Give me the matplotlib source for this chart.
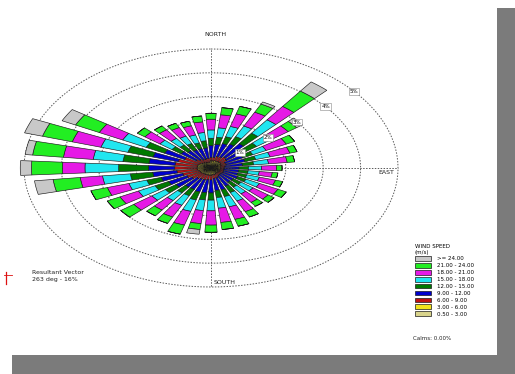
import numpy as np
import matplotlib.pyplot as plt
from matplotlib.patches import Patch, Rectangle
from matplotlib.lines import Line2D

W, H = 515, 374

# wind directions (deg, blowing from) and frequency (%) per speed class, lowest class first
directions = list(range(0, 360, 10))
speed_labels = ['0.50 - 3.00', '3.00 - 6.00', '6.00 - 9.00', '9.00 - 12.00', '12.00 - 15.00',
                '15.00 - 18.00', '18.00 - 21.00', '21.00 - 24.00', '>= 24.00']
colors = ['#d9d48c', '#f2e21c', '#c01010', '#0000cd', '#007a00',
          '#20e6f0', '#e619e6', '#22ee22', '#c8c8c8']

c1 = [.12, .12, .12, .12, .12, .12, .10, .10, .10, .10, .10, .10, .10, .10, .10, .10, .10, .10,
      .10, .10, .10, .10, .10, .12, .12, .12, .12, .12, .12, .12, .12, .10, .10, .10, .10, .10]
c2 = [.18, .18, .20, .20, .20, .20, .18, .18, .15, .15, .15, .15, .15, .15, .15, .15, .18, .18,
      .20, .20, .20, .20, .20, .20, .20, .22, .25, .25, .25, .25, .22, .20, .18, .15, .15, .15]
c3 = [.15, .16, .18, .20, .25, .20, .15, .15, .13, .10, .10, .10, .12, .10, .10, .14, .16, .16,
      .20, .20, .22, .22, .25, .32, .40, .45, .55, .60, .60, .55, .45, .20, .16, .15, .15, .15]
c4 = [.50, .54, .57, .60, .70, .60, .52, .52, .47, .40, .40, .40, .43, .40, .40, .46, .51, .51,
      .55, .55, .53, .48, .45, .53, .55, .60, .65, .70, .70, .70, .60, .50, .46, .45, .45, .45]
c5 = [.30, .30, .30, .35, .55, .40, .30, .30, .30, .25, .25, .25, .25, .25, .25, .30, .30, .30,
      .30, .30, .35, .30, .30, .35, .40, .40, .60, .80, .70, .70, .55, .30, .30, .30, .25, .30]
c6 = [.35, .40, .45, .50, .70, .50, .40, .40, .40, .35, .30, .35, .40, .40, .35, .40, .45, .45,
      .45, .45, .50, .45, .40, .45, .50, .50, .75, .90, .80, .75, .70, .40, .35, .35, .35, .35]
c7 = [.45, .55, .55, .65, .70, .55, .60, .55, .50, .40, .35, .45, .55, .50, .45, .50, .55, .60,
      .60, .55, .60, .55, .50, .60, .55, .60, .60, .60, .80, .80, .70, .50, .45, .40, .40, .45]
c8 = [.25, .30, .33, .38, .80, .28, .25, .20, .20, .15, .15, .20, .25, .20, .20, .25, .30, .30,
      .30, .25, .40, .30, .30, .43, .38, .46, .73, .83, .83, .83, .71, .25, .20, .20, .20, .25]
c9 = [0, 0, 0, .10, .48, .20, 0, 0, 0, 0, 0, 0, 0, 0, 0, 0, 0, 0,
      0, .20, 0, 0, 0, 0, 0, 0, .50, .30, .20, .50, .40, 0, 0, 0, 0, 0]
speed_classes = [c1, c2, c3, c4, c5, c6, c7, c8, c9]

ring_levels = [1, 2, 3, 4, 5]
calms = 'Calms: 0.00%'
resultant = ['Resultant Vector', '263 deg - 16%']


def fx(x):
    return x / W


def fy(y):
    return 1 - y / H


fig = plt.figure(figsize=(W / 100, H / 100), dpi=100)

# paper with drop shadow
fig.add_artist(Rectangle((fx(12), 0), 1 - fx(12), fy(8), transform=fig.transFigure,
                         facecolor='#7b7b7b', edgecolor='none', zorder=-2))
fig.add_artist(Rectangle((0, fy(355)), fx(497), 1 - fy(355), transform=fig.transFigure,
                         facecolor='white', edgecolor='none', zorder=-1))

# stretched polar axes: centre and outer ring size in pixels
cx, cy = 211, 168
rx5, ry5 = 187, 119
rmax = 5.6
half_w = rx5 * rmax / 5
half_h = ry5 * rmax / 5
ax = fig.add_axes([fx(cx - half_w), fy(cy + half_h), 2 * half_w / W, 2 * half_h / H],
                  projection='polar')
ax.set_aspect('auto')
ax.set_theta_zero_location('N')
ax.set_theta_direction(-1)
ax.set_ylim(0, rmax)
ax.axis('off')

ring_style = dict(color='#5a5a5a', lw=0.7, ls=(0, (1.5, 1.5)), zorder=1)
t = np.linspace(0, 2 * np.pi, 361)
for r in ring_levels:
    ax.plot(t, np.full_like(t, r), **ring_style)
for a in [0, 90, 180, 270]:
    ax.plot([np.deg2rad(a)] * 2, [0, ring_levels[-1]], **ring_style)

theta = np.deg2rad(directions)
bottom = np.zeros(len(directions))
for vals, col in zip(speed_classes, colors):
    ax.bar(theta, vals, width=np.deg2rad(7), bottom=bottom, color=col,
           edgecolor='#1a1a1a', linewidth=0.45, zorder=3)
    bottom += np.array(vals)

for r in ring_levels:
    ax.text(np.deg2rad(50), r, f'{r}%', fontsize=4, ha='center', va='center', zorder=6,
            bbox=dict(boxstyle='square,pad=0.15', fc='white', ec='#888888', lw=0.4))

txt = dict(fontsize=4.5, color='#222222')
fig.text(fx(215), fy(34), 'NORTH', ha='center', va='center', **txt)
fig.text(fx(214), fy(283), 'SOUTH', ha='left', va='center', **txt)
fig.text(fx(394), fy(172), 'EAST', ha='right', va='center', **txt)

# resultant vector note
fig.add_artist(Line2D([fx(6), fx(6)], [fy(284), fy(272)], color='#dd1111', lw=0.9,
                      transform=fig.transFigure))
fig.add_artist(Line2D([fx(4), fx(12)], [fy(275), fy(275)], color='#dd1111', lw=0.6,
                      transform=fig.transFigure))
fig.text(fx(32), fy(273), resultant[0], ha='left', va='center', **txt)
fig.text(fx(32), fy(280), resultant[1], ha='left', va='center', **txt)

# legend, highest class on top
handles = [Patch(facecolor=c, edgecolor='#1a1a1a', linewidth=0.5) for c in colors[::-1]]
leg = fig.legend(handles, speed_labels[::-1], loc='upper left',
                 bbox_to_anchor=(fx(412), fy(241)), frameon=False, fontsize=4,
                 title='WIND SPEED\n(m/s)', title_fontsize=4, alignment='left',
                 borderpad=0, handlelength=3.0, handleheight=0.9, handletextpad=1.0,
                 labelspacing=0.3)
fig.text(fx(413), fy(338), calms, ha='left', va='center', fontsize=4, color='#222222')

fig.savefig('out.png', dpi=100)
